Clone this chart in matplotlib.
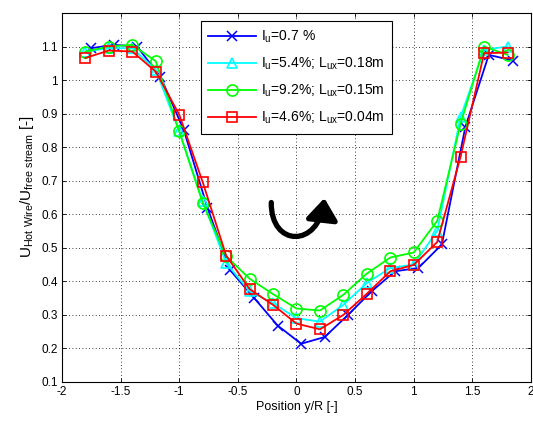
import matplotlib
matplotlib.use("Agg")
import matplotlib.pyplot as plt
from matplotlib.patches import FancyArrowPatch
from matplotlib.path import Path

plt.rcParams["font.family"] = "Liberation Sans"
plt.rcParams["mathtext.fontset"] = "custom"
plt.rcParams["mathtext.rm"] = "Liberation Sans"
plt.rcParams["mathtext.default"] = "regular"
plt.rcParams["font.size"] = 8.5

# measured positions y/R
x_std = [-1.8, -1.6, -1.4, -1.2, -1.0, -0.8, -0.6, -0.4, -0.2, 0.0,
         0.2, 0.4, 0.6, 0.8, 1.0, 1.2, 1.4, 1.6, 1.8]
x_blue = [-1.75, -1.56, -1.36, -1.16, -0.96, -0.76, -0.57, -0.36, -0.16, 0.04,
          0.24, 0.44, 0.64, 0.84, 1.04, 1.24, 1.44, 1.64, 1.85]

u_07 = [1.095, 1.105, 1.10, 1.01, 0.85, 0.62, 0.435, 0.35, 0.268, 0.214,
        0.234, 0.30, 0.37, 0.43, 0.44, 0.51, 0.86, 1.075, 1.058]
u_54 = [1.085, 1.095, 1.095, 1.03, 0.847, 0.64, 0.455, 0.37, 0.335, 0.29,
        0.28, 0.33, 0.395, 0.44, 0.45, 0.55, 0.89, 1.09, 1.10]
u_92 = [1.085, 1.10, 1.105, 1.056, 0.847, 0.634, 0.475, 0.408, 0.362, 0.319,
        0.313, 0.36, 0.423, 0.471, 0.486, 0.58, 0.87, 1.10, 1.075]
u_46 = [1.066, 1.088, 1.085, 1.025, 0.897, 0.696, 0.477, 0.377, 0.33, 0.274,
        0.257, 0.30, 0.363, 0.43, 0.449, 0.517, 0.772, 1.08, 1.082]

labels = [r"I$_u$=0.7 %",
          r"I$_u$=5.4%; L$_{ux}$=0.18m",
          r"I$_u$=9.2%; L$_{ux}$=0.15m",
          r"I$_u$=4.6%; L$_{ux}$=0.04m"]

fig = plt.figure(figsize=(5.33, 4.22), dpi=100)
ax = fig.add_axes([0.1163, 0.0948, 0.8799, 0.8745])

ax.plot(x_blue, u_07, color="#0000ff", marker="x", ms=6.5, mew=1.1, lw=1.3, label=labels[0])
ax.plot(x_std, u_54, color="#00ffff", marker="^", ms=7.5, mfc="none", mew=1.2, lw=1.3, label=labels[1])
ax.plot(x_std, u_92, color="#00ff00", marker="o", ms=8, mfc="none", mew=1.2, lw=1.3, label=labels[2])
ax.plot(x_std, u_46, color="#ff0000", marker="s", ms=7.5, mfc="none", mew=1.2, lw=1.3, label=labels[3])

# curved rotation arrow
verts = [(-0.215, 0.635), (-0.22, 0.50), (0.19, 0.50), (0.238, 0.648)]
codes = [Path.MOVETO, Path.CURVE4, Path.CURVE4, Path.CURVE4]
arrow = FancyArrowPatch(path=Path(verts, codes), arrowstyle="-|>,head_length=0.4,head_width=0.3",
                        mutation_scale=32, lw=3.8, color="black")
ax.add_patch(arrow)

ax.set_xlim(-2, 2)
ax.set_ylim(0.1, 1.2)
ax.set_xticks([-2, -1.5, -1, -0.5, 0, 0.5, 1, 1.5, 2])
ax.set_xticklabels(["-2", "-1.5", "-1", "-0.5", "0", "0.5", "1", "1.5", "2"])
ax.set_yticks([0.1, 0.2, 0.3, 0.4, 0.5, 0.6, 0.7, 0.8, 0.9, 1.0, 1.1])
ax.set_yticklabels(["0.1", "0.2", "0.3", "0.4", "0.5", "0.6", "0.7", "0.8", "0.9", "1", "1.1"])
ax.tick_params(direction="in", top=True, right=True, length=3, width=0.6, pad=3)
ax.grid(True, color="black", linestyle=(0, (1, 3)), linewidth=0.6)
for sp in ax.spines.values():
    sp.set_linewidth(0.8)

ax.set_xlabel("Position y/R [-]", labelpad=2, fontsize=9)
ax.set_ylabel(r"U$_{Hot\ Wire}$/U$_{free\ stream}$ [-]", labelpad=2, fontsize=11)
ax.yaxis.set_label_coords(-0.055, 0.53)

leg = ax.legend(loc="upper left", bbox_to_anchor=(0.296, 0.977), borderaxespad=0,
                fancybox=False, edgecolor="black", framealpha=1, handlelength=3.4,
                labelspacing=0.75, borderpad=0.55, handletextpad=0.35, fontsize=10)
leg.get_frame().set_linewidth(0.8)

fig.savefig("out.png", dpi=100)
